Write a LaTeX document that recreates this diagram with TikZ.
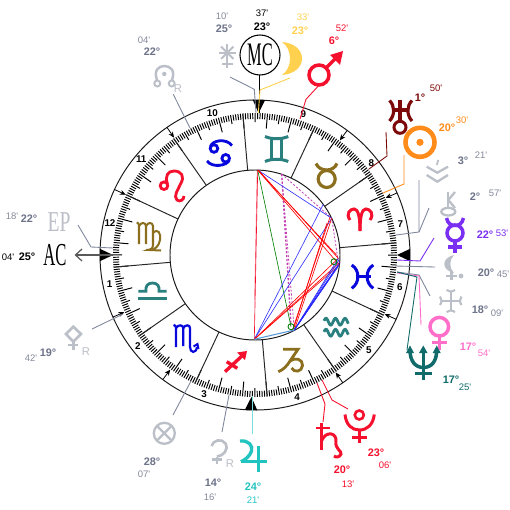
\documentclass[tikz,border=0pt]{standalone}
\usepackage{fontspec}
\setmainfont{Liberation Sans}
\newfontfamily\narrowserif{Liberation Serif}
\usetikzlibrary{arrows.meta}
\definecolor{gtext}{HTML}{6D7389}
\definecolor{gmin}{HTML}{848A9B}
\definecolor{gly}{HTML}{BBBFC7}
\definecolor{lead}{HTML}{7F879C}
\definecolor{myred}{HTML}{F5102E}
\definecolor{myyel}{HTML}{FFD14F}
\definecolor{myorg}{HTML}{FF8C1A}
\definecolor{mypur}{HTML}{7A2FF2}
\definecolor{mypink}{HTML}{FF6FC9}
\definecolor{myteal}{HTML}{116B6B}
\definecolor{mycyan}{HTML}{22C4C0}
\definecolor{mydred}{HTML}{7D0A0A}
\definecolor{olive}{HTML}{8B6F1E}
\definecolor{zteal}{HTML}{2A7F7F}
\definecolor{zblue}{HTML}{0808DD}
\definecolor{asp}{HTML}{C23DB0}
\newcounter{lb}
\newcommand\degl[4]{\stepcounter{lb}\node[dg,text=#3] (d\arabic{lb}) at (#1,#2) {#4\textdegree};}
\newcommand\minl[4]{\stepcounter{lb}\node[mn,text=#3] (m\arabic{lb}) at (#1,#2) {#4\textquotesingle};}
\tikzset{
 dg/.style={inner sep=0pt,font=\fontsize{6.2}{7}\selectfont\bfseries},
 mn/.style={inner sep=0pt,font=\fontsize{5.4}{7}\selectfont},
 hnum/.style={inner sep=0pt,font=\fontsize{5.6}{7}\selectfont\bfseries},
 rr/.style={inner sep=0pt,text=gly,font=\fontsize{6.4}{7}\selectfont},
 ring/.style={line width=0.55pt,draw=black!90},
 tickm/.style={line width=0.55pt,draw=black},
 cusp/.style={line width=0.45pt,draw=black,-{Stealth[length=3.4pt,width=2.8pt]}},
 lead/.style={line width=0.5pt,draw=#1},
 g/.style={line width=#1,line cap=butt,line join=miter},
 asl/.style={line width=0.36pt,draw=#1},
 dsh/.style={line width=#1,draw=asp,dash pattern=on 1.2pt off 1pt},
}
\begin{document}
\begin{tikzpicture}[x=0.02cm,y=-0.02cm]
\useasboundingbox (0,0) rectangle (510,510);
\fill[white] (0,0) rectangle (510,510);
% ---------- wheel
\begin{scope}[shift={(255,255)}]
\draw[ring] (0,0) circle[radius=155];
\draw[ring] (0,0) circle[radius=85];
\foreach \d in {0,...,359}{
  \pgfmathsetmacro\t{4.93+\d}
  \pgfmathsetmacro\lng{mod(\d,10)==0?15:(mod(\d,5)==0?9:6)}
  \draw[tickm] ({-\t}:142) -- ({-\t}:{142-\lng});
}
\foreach \d in {0,30,...,330}{
  \pgfmathsetmacro\t{4.93+\d}
  \draw[line width=0.55pt,black!85] ({-\t}:85) -- ({-\t}:142);
}
\foreach \t in {124.6,155,203.6,233.5,304.5,335.5,23.6,53.5}{
  \draw[cusp] ({-\t}:155) -- ({-\t}:142.5);
}
\foreach \n/\t in {1/191.5,2/218,3/250,4/286.5,5/320,6/347.5,7/12,8/38.4,9/71,10/106.7,11/140,12/167.6}{
  \node[hnum] (h\n) at ({-\t}:148.5) {\n};
}
\foreach \t in {88.55,268.55,180,0}{
  \fill[black] ({-\t}:142) -- ({-\t-2.3}:155.3) -- ({-\t+2.3}:155.3) -- cycle;
}
\end{scope}
% ---------- aspects
\coordinate (A) at (257.7,170);
\coordinate (B) at (254.3,339.3);
\coordinate (C) at (294.3,330);
\coordinate (D) at (339.3,265);
\coordinate (E) at (331.7,218.3);
\coordinate (F) at (323.3,204.3);
\coordinate (G) at (281.7,174);
\coordinate (H) at (338.3,258.3);
\coordinate (I) at (291,326.7);
\coordinate (J) at (334,261.7);
\draw[dsh=0.75pt] (G) -- (291,325);
\draw[dsh=0.45pt] (G) -- (C);
\draw[dsh=0.45pt] (G) -- (E) -- (338.5,263);
\draw[asl=myred!55] (257.2,170) -- (254.6,300);
\draw[asl=myred] (A) -- (B);
\draw[asl=green!50!black] (A) -- (I);
\draw[asl=blue!80] (A) -- (E);
\draw[asl=blue!80] (B) -- (F);
\draw[asl=blue!80] (B) -- (E);
\draw[asl=red] (A) -- (D);
\draw[asl=red] (258.3,170) -- (H);
\draw[asl=red] (A) -- (336.5,255);
\draw[asl=red] (C) -- (E);
\draw[asl=red] (293.5,329) -- (327,223);
\draw[asl=red] (292.5,330) -- (330,217);
\draw[asl=red] (B) -- (H);
\draw[asl=red] (B) -- (D);
\draw[asl=red] (B) -- (340,262);
\draw[asl=blue!85] (C) -- (H);
\draw[asl=blue!85] (C) -- (339,260);
\draw[asl=blue!85] (C) -- (340,262);
\draw[asl=blue!85] (C) -- (D);
\draw[asl=blue!85] (294,330.5) -- (338,266);
\draw[asl=blue!85] (293.5,331) -- (337,267);
\draw[line width=0.6pt,cyan!60!blue!70] (B) -- (C);
\draw[line width=0.5pt,green!50!black] (I) circle[radius=3];
\draw[line width=0.5pt,green!50!black] (J) circle[radius=3];
% ---------- leader lines
\draw[line width=0.55pt,black] (259.3,75) -- (259.3,113);
\draw[lead=lead] (230,77) -- (254.3,89.3) -- (256,113);
\draw[lead=myyel] (290,78) -- (260,90) -- (258.3,113);
\draw[lead=myred] (318.3,86) -- (306,99.3) -- (300,119);
\draw[lead=lead] (173.3,94.3) -- (190,128);
\draw[lead=mydred] (386,132) -- (387,156) -- (369,169);
\draw[lead=myorg] (404,155) -- (404,184) -- (383,193);
\draw[lead=lead] (419,180) -- (419,232) -- (396,235);
\draw[lead=lead] (429,208) -- (419,232);
\draw[lead=mypur] (434,238) -- (420,261) -- (397,260);
\draw[lead=lead] (395,266) -- (435,267);
\draw[lead=lead] (430,296) -- (419,275) -- (397,272);
\draw[lead=mypink] (421,325) -- (419,276) -- (397,273);
\draw[lead=myteal] (407,350) -- (417,277) -- (397,272);
\draw[lead=myred] (323,422) -- (325,404) -- (317,383);
\draw[lead=myred] (348,409) -- (332,400) -- (322,380);
\draw[line width=0.7pt,mycyan!60] (252.7,396) -- (252.7,434);
\draw[lead=lead] (222,432) -- (229,395);
\draw[lead=lead] (173,415) -- (191,381);
\draw[lead=lead] (92,329) -- (123,314);
\draw[lead=lead] (78,225) -- (91,247) -- (113,248);
\draw[line width=0.9pt,black!65] (113,255) -- (76,255);
\draw[line width=0.7pt,black!65] (82,249) -- (75.5,255) -- (82,261);
% ---------- MC / AC / EP
\node[circle,draw=black,line width=0.6pt,minimum size=40*0.02cm,inner sep=0pt] (mcc) at (260,55) {};
\node[inner sep=0pt,xscale=.5,font=\fontsize{18.7}{20}\narrowserif] (mc) at (260,55) {MC};
\node[inner sep=0pt,xscale=.52,font=\fontsize{18.2}{20}\narrowserif] (ac) at (55,255) {AC};
\node[inner sep=0pt,xscale=.68,text=gly,font=\fontsize{16.4}{20}\narrowserif] (ep) at (59,222) {EP};
\node[rr] (r1) at (178,89) {R};
\node[rr] (r2) at (230,464) {R};
\node[rr] (r3) at (86,352) {R};
% ---------- degree labels
\degl{262}{27}{black}{23}\minl{262}{13}{black}{37}
\degl{224}{29}{gtext}{25}\minl{222}{16}{gmin}{10}
\degl{300}{31}{myyel}{23}\minl{303}{17}{myyel}{33}
\degl{334}{41}{myred}{6}\minl{342}{28}{myred}{52}
\degl{152}{52}{gtext}{22}\minl{144}{40}{gmin}{04}
\degl{420}{98}{mydred}{1}\minl{436}{88}{mydred}{50}
\degl{447}{128}{myorg}{20}\minl{462}{120}{myorg}{30}
\degl{463}{161}{gtext}{3}\minl{481}{155}{gmin}{21}
\degl{475}{197}{gtext}{2}\minl{495}{193}{gmin}{57}
\degl{485}{235}{mypur}{22}\minl{502}{233}{mypur}{53}
\degl{486}{273}{gtext}{20}\minl{503}{274}{gmin}{45}
\degl{480}{310}{gtext}{18}\minl{497}{313}{gmin}{09}
\degl{468}{347}{mypink}{17}\minl{484}{353}{mypink}{54}
\degl{451}{380}{myteal}{17}\minl{465}{387}{myteal}{25}
\degl{376}{453}{myred}{23}\minl{385}{465}{myred}{06}
\degl{342}{470}{myred}{20}\minl{348}{484}{myred}{13}
\degl{253}{487}{mycyan}{24}\minl{253}{500}{mycyan}{21}
\degl{213}{483}{gtext}{14}\minl{210}{497}{gmin}{16}
\degl{152}{462}{gtext}{28}\minl{144}{474}{gmin}{07}
\degl{48}{353}{gtext}{19}\minl{31}{358}{gmin}{42}
\degl{29}{219}{gtext}{22}\minl{12}{216}{gmin}{18}
\degl{27}{257}{black}{25}\minl{8}{257}{black}{04}
% ---------- planet glyphs
% Mars
\draw[myred,g=2pt] (319,75) circle[radius=10];
\draw[myred,g=2pt] (326,68) -- (337,57);
\fill[myred] (343,51) -- (330,55) -- (340,65) -- cycle;
% Moon
\fill[myyel] (282,42) .. controls (308.7,44) and (308.7,73) .. (282,75) .. controls (292.7,68) and (292.7,49) .. (282,42) -- cycle;
% Asterisk
\foreach \a in {0,45,...,315}{\draw[gly,g=1.1pt] (227.3,52.7) -- ++(\a:8.7);}
\draw[gly,g=1.1pt] (227.3,52.7) -- (227.3,68);
\draw[gly,g=1.1pt] (222,64) -- (232.5,64);
% Node
\draw[gly,g=1.4pt] (157.3,81) .. controls (153,70) and (159,66) .. (164.3,66) .. controls (170,66) and (176,70) .. (171.7,81);
\fill[gly] (164.3,74) circle[radius=2.2];
\draw[gly,g=1.1pt] (157.3,83.5) circle[radius=3];
\draw[gly,g=1.1pt] (171.7,83.5) circle[radius=3];
% Uranus
\draw[mydred,g=1.8pt] (400,100) -- (400,121);
\draw[mydred,g=1.8pt] (392,110) -- (408,110);
\draw[mydred,g=1.8pt] (389.5,100.5) .. controls (395,106) and (395,115) .. (389.5,121);
\draw[mydred,g=1.8pt] (412,100.5) .. controls (406.5,106) and (406.5,115) .. (412,121);
\draw[mydred,g=1.7pt] (400,127.3) circle[radius=6];
% Sun
\draw[myorg,g=2.6pt] (420,142.3) circle[radius=14.5];
\fill[myorg] (420,142.3) circle[radius=3.6];
% South-node chevrons
\draw[gly,g=1.3pt] (426.7,166.7) -- (437.3,172.7) -- (448,166.7);
\draw[gly,g=1.3pt] (426.7,175) -- (437.3,181.7) -- (448,175);
\draw[gly,g=1pt] (438.3,160) -- (436.7,165);
% Chiron
\draw[gly,g=1.3pt] (448.3,191.7) -- (448.3,208);
\draw[gly,g=1.3pt] (455,192) -- (448.3,200) -- (455,208);
\draw[gly,g=1.3pt] (448.3,211.7) ellipse[x radius=7,y radius=3.8];
% Mercury
\draw[mypur,g=2pt] (446.5,218) .. controls (448,224) and (451,225.5) .. (455,225.5) .. controls (459,225.5) and (462,224) .. (463.5,218);
\draw[mypur,g=2pt] (455,233) circle[radius=8];
\draw[mypur,g=2pt] (455,241) -- (455,253);
\draw[mypur,g=2pt] (448,247) -- (462,247);
% Lilith-moon
\fill[gly] (454,255) .. controls (441,258) and (441,270) .. (454,273) .. controls (449,268) and (449,260) .. (454,255) -- cycle;
\draw[gly,g=1.4pt] (451.7,271) -- (451.7,280);
\draw[gly,g=1.4pt] (446,276) -- (456.7,276);
\fill[gly] (461,276) circle[radius=2.4];
% Cross glyph
\draw[gly,g=1.2pt] (450.7,291) -- (450.7,311);
\draw[gly,g=1.2pt] (440.7,300.7) -- (460.7,300.7);
\draw[gly,g=1.2pt] (446.5,290) .. controls (449,292) and (452,292) .. (455,290);
\draw[gly,g=1.2pt] (446.5,312) .. controls (449,310) and (452,310) .. (455,312);
\draw[gly,g=1.2pt] (440,296.5) .. controls (442,299) and (442,302) .. (440,305);
\draw[gly,g=1.2pt] (461.5,296.5) .. controls (459.5,299) and (459.5,302) .. (461.5,305);
% Venus
\draw[mypink,g=2pt] (439.3,326.7) circle[radius=9.3];
\draw[mypink,g=2pt] (439.3,336) -- (439.3,349.5);
\draw[mypink,g=2pt] (431.7,342.7) -- (446.7,342.7);
% Neptune
\draw[myteal,g=2pt] (423.3,350) -- (423.3,379.5);
\draw[myteal,g=2pt] (410,350) .. controls (410,362) and (416,367.5) .. (423.3,367.5) .. controls (431,367.5) and (436.7,362) .. (436.7,350);
\draw[myteal,g=2pt] (414.5,373.5) -- (431.5,373.5);
\fill[myteal] (423.3,345.5) -- (427.5,353) -- (419,353) -- cycle;
\fill[myteal] (410,345.5) -- (414,353) -- (406,353) -- cycle;
\fill[myteal] (436.7,345.5) -- (440.7,353) -- (432.7,353) -- cycle;
% Jupiter
\draw[mycyan,g=1.9pt] (240,441) .. controls (249,440) and (253,446) .. (251.5,451) .. controls (250,456) and (245,460) .. (241,461.7);
\draw[mycyan,g=1.9pt] (240.5,461.7) -- (266.5,461.7);
\draw[mycyan,g=1.9pt] (258.3,446) -- (258.3,472);
% Pallas mirror
\draw[gly,g=1.5pt] (211.5,446) .. controls (213,440) and (222,438) .. (225.5,443.5) .. controls (229,450) and (223,456) .. (217,456.5);
\draw[gly,g=1.5pt] (217,456.5) -- (217,464);
\draw[gly,g=1.5pt] (212,459.5) -- (222,459.5);
% Fortune
\draw[gly,g=1.3pt] (164.3,433.3) circle[radius=10.5];
\draw[gly,g=1.3pt] (156.9,425.9) -- (171.7,440.7);
\draw[gly,g=1.3pt] (156.9,440.7) -- (171.7,425.9);
% Saturn
\draw[myred,g=1.7pt] (321.7,423) -- (321.7,450);
\draw[myred,g=1.7pt] (316,428) -- (330,428);
\draw[myred,g=1.7pt] (322,440) .. controls (326,431) and (337,432) .. (336,442) .. controls (335,449) and (342,451) .. (341,454) .. controls (340,457) and (336,458) .. (334,456);
% Pluto
\draw[myred,g=1.5pt] (359.3,415) circle[radius=4.5];
\draw[myred,g=1.7pt] (345,414.5) .. controls (346,425) and (352,430) .. (359.3,430) .. controls (367,430) and (373,425) .. (374.3,414.5);
\draw[myred,g=1.7pt] (359.3,430) -- (359.3,442.7);
\draw[myred,g=1.7pt] (351.7,437.3) -- (366.7,437.3);
% Diamond
\draw[gly,g=1.5pt] (73.3,326.7) -- (81,334) -- (73.3,341.7) -- (66,334) -- cycle;
\draw[gly,g=1.5pt] (73.3,341.7) -- (73.3,349.5);
\draw[gly,g=1.5pt] (68.3,345) -- (78.3,345);
% ---------- zodiac glyphs
% Cancer
\draw[zblue,g=1.6pt] (214,148.5) circle[radius=3.8];
\draw[zblue,g=1.6pt] (210.3,147) .. controls (212,140) and (226,138) .. (232,145.5);
\draw[zblue,g=1.6pt] (225.7,158.3) circle[radius=3.8];
\draw[zblue,g=1.6pt] (229.4,160) .. controls (227,166) and (212,168) .. (207,161);
% Leo
\draw[myred,g=1.6pt] (164,185.7) circle[radius=3.8];
\draw[myred,g=1.6pt] (167.5,184) .. controls (164.5,176) and (168,171) .. (174,171) .. controls (182,171) and (184.5,177) .. (181,183) .. controls (178,190) and (173,196) .. (177,200) .. controls (180,202.5) and (184,199.5) .. (184,196);
% Virgo
\draw[olive,g=1.15pt] (136.7,222.5) .. controls (138,222.5) and (139,223.5) .. (139,226) -- (139,244);
\draw[olive,g=1.15pt] (139,226) .. controls (141,222) and (145.5,222) .. (146,226) -- (146,244);
\draw[olive,g=1.15pt] (146,226) .. controls (148,222) and (152.5,222) .. (153,226) -- (153,245) .. controls (153,249) and (150,250) .. (146,250);
\draw[olive,g=1.15pt] (153,233) .. controls (158,228) and (161,233) .. (160,240) .. controls (159,246) and (155,250) .. (150,250) -- (161,250.5);
% Libra
\draw[zteal,g=1.6pt] (138.3,298.3) -- (166.7,298.3);
\draw[zteal,g=1.6pt] (138.3,291.3) -- (146,291.3) .. controls (145,286) and (148,283) .. (152.5,283) .. controls (157,283) and (160,286) .. (159,291.3) -- (166.7,291.3);
% Scorpio
\draw[zblue,g=1.25pt] (173.5,325) .. controls (175,325) and (176,326) .. (176,328) -- (176,347);
\draw[zblue,g=1.25pt] (176,328) .. controls (178,324.5) and (183,324.5) .. (183.3,328) -- (183.3,346);
\draw[zblue,g=1.25pt] (183.3,328) .. controls (185,324.5) and (190,324.5) .. (190,328) -- (190,347) .. controls (190,353) and (196,354) .. (197,347);
\draw[zblue,g=1.1pt] (193.5,346.5) -- (197.5,344) -- (198.5,349);
% Sagittarius
\draw[myred,g=1.9pt] (225,371.7) -- (243,355);
\draw[myred,g=1.9pt] (226.7,361.7) -- (237.3,368.3);
\fill[myred] (247,351) -- (237,352.5) -- (245,360) -- cycle;
% Capricorn
\draw[olive,g=1.6pt] (283,349.3) -- (298,349.3) -- (290,361) .. controls (287,366) and (283,370) .. (278.3,371.7);
\draw[olive,g=1.6pt] (290,361) .. controls (295,357) and (303,359) .. (302.5,365.5) .. controls (302,372) and (294,373) .. (291.5,368);
% Aquarius
\draw[zteal,g=1.6pt,smooth] plot[domain=324:348.3,samples=40] (\x,{321.7+3.4*cos(360*(\x-326)/9.5+180)});
\draw[zteal,g=1.6pt,smooth] plot[domain=324:348.3,samples=40] (\x,{332.7+3.4*cos(360*(\x-326)/9.5+180)});
% Pisces
\draw[zblue,g=1.7pt] (351.7,265) .. controls (360,270) and (360,283) .. (351.7,288.3);
\draw[zblue,g=1.7pt] (373.3,265) .. controls (365,270) and (365,283) .. (373.3,288.3);
\draw[zblue,g=1.7pt] (355.5,276.7) -- (370.5,276.7);
% Aries
\draw[myred,g=1.7pt] (350,220) .. controls (345.5,214) and (350,209) .. (354,209) .. controls (358,209) and (360,216) .. (360,231);
\draw[myred,g=1.7pt] (370,220) .. controls (374.5,214) and (370,209) .. (366,209) .. controls (362,209) and (360,216) .. (360,231);
% Taurus
\draw[olive,g=1.8pt] (326.7,179) circle[radius=8.5];
\draw[olive,g=1.8pt] (316,163.5) .. controls (318,168) and (322,170) .. (326.7,170) .. controls (331,170) and (335,168) .. (337,163.5);
% Gemini
\draw[zteal,g=1.7pt] (265,136.5) .. controls (272,139.5) and (281,139.5) .. (288.3,136.5);
\draw[zteal,g=1.7pt] (265,161.5) .. controls (272,158.5) and (281,158.5) .. (288.3,161.5);
\draw[zteal,g=1.7pt] (271.3,138.5) -- (271.3,159.5);
\draw[zteal,g=1.7pt] (281.7,138.5) -- (281.7,159.5);
\end{tikzpicture}
\end{document}
